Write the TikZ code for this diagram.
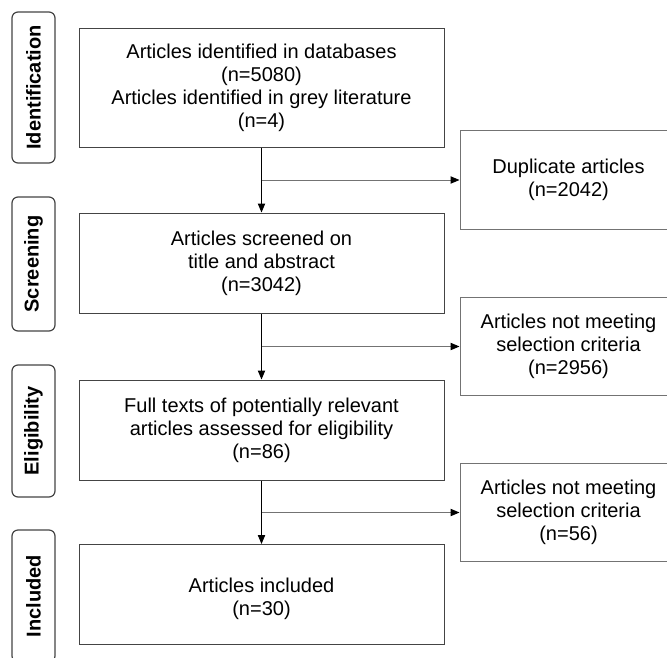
\documentclass[tikz,border=0pt]{standalone}
\usepackage{fontspec}
\setmainfont{Liberation Sans}
\usepackage{tikz}
\usetikzlibrary{arrows.meta}
\definecolor{framegray}{HTML}{444444}
\definecolor{sidegray}{HTML}{737373}
\tikzset{
box/.style={
  rectangle,
  draw=framegray,
  line width=0.75pt,
  minimum width=273.75pt,
  minimum height=75pt,
  align=center,
  font=\fontsize{15}{17.25}\selectfont
},
side/.style={
  rectangle,
  draw=sidegray,
  line width=0.75pt,
  minimum width=162.75pt,
  minimum height=74pt,
  align=center,
  font=\fontsize{15}{17.25}\selectfont
},
stage/.style={
  rectangle,
  draw=framegray,
  line width=0.9pt,
  rounded corners=4.5pt,
  rotate=90,
  minimum height=32.25pt,
  font=\bfseries\fontsize{15}{17.25}\selectfont
},
flow/.style={-{Triangle[length=6.75pt,width=5.5pt,color=black]}, line width=0.75pt},
branch/.style={flow, draw=sidegray},
}
\begin{document}
\begin{tikzpicture}[x=0.75pt,y=-0.75pt]
\useasboundingbox (0,0) rectangle (667,657);
% the main boxes
\node[box, minimum height=89.25pt] (idf) at (261.5,87.5)
  {Articles identified in databases\\(n=5080)\\Articles identified in grey literature\\(n=4)};
\node[box] (scr) at (261.5,263) {Articles screened on\\title and abstract\\(n=3042)};
\node[box] (elg) at (261.5,430) {Full texts of potentially relevant\\articles assessed for eligibility\\(n=86)};
\node[box] (inc) at (261.5,594.5) {\mbox{}\\Articles included\\(n=30)};
% the excluded boxes
\node[side] (dup) at (568.5,180) {Duplicate articles\\(n=2042)};
\node[side] (crit1) at (568.5,346.5) {Articles not meeting\\selection criteria\\(n=2956)};
\node[side] (crit2) at (568.5,512.5) {Articles not meeting\\selection criteria\\(n=56)};
% the stage labels
\node[stage, minimum width=113.25pt] (lIdf) at (33.5,87.5) {Identification};
\node[stage, minimum width=100.5pt] (lScr) at (33.5,264) {Screening};
\node[stage, minimum width=99pt] (lElg) at (33.5,431) {Eligibility};
\node[stage, minimum width=99pt] (lInc) at (33.5,596) {Included};
% the arrows
\foreach \a/\b/\c in {idf/scr/dup, scr/elg/crit1, elg/inc/crit2}
{
  \draw[flow] (\a) -- (\b);
  \draw[branch] (\a.south |- \c.west) -- (\c.west);
}
\end{tikzpicture}
\end{document}
